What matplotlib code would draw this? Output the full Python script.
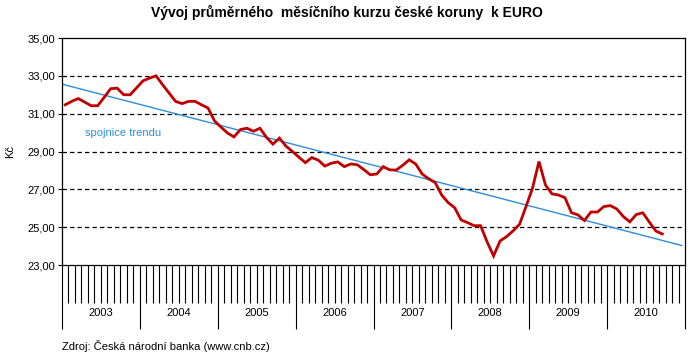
import numpy as np
import matplotlib
matplotlib.use("Agg")
from matplotlib import pyplot as plt
from matplotlib.ticker import FixedLocator, FuncFormatter

# monthly average CZK/EUR, Jan 2003 .. Sep 2010
kurz_2003 = [31.47, 31.65, 31.80, 31.61, 31.42, 31.42, 31.86, 32.32, 32.35, 32.00, 32.00, 32.37]
kurz_2004 = [32.74, 32.88, 33.00, 32.53, 32.09, 31.65, 31.53, 31.65, 31.65, 31.47, 31.30, 30.62]
kurz_2005 = [30.29, 29.98, 29.77, 30.16, 30.23, 30.07, 30.23, 29.75, 29.39, 29.71, 29.29, 29.00]
kurz_2006 = [28.70, 28.41, 28.68, 28.54, 28.23, 28.38, 28.45, 28.20, 28.34, 28.30, 28.05, 27.77]
kurz_2007 = [27.81, 28.20, 28.03, 28.02, 28.27, 28.56, 28.34, 27.81, 27.56, 27.36, 26.70, 26.30]
kurz_2008 = [26.03, 25.38, 25.24, 25.08, 25.08, 24.23, 23.48, 24.27, 24.50, 24.80, 25.15, 26.09]
kurz_2009 = [27.06, 28.47, 27.23, 26.76, 26.70, 26.56, 25.77, 25.65, 25.35, 25.80, 25.80, 26.09]
kurz_2010 = [26.14, 25.96, 25.56, 25.28, 25.67, 25.76, 25.27, 24.80, 24.64]

years = ['2003', '2004', '2005', '2006', '2007', '2008', '2009', '2010']
yticks = [23, 25, 27, 29, 31, 33, 35]

kurz = np.array(kurz_2003 + kurz_2004 + kurz_2005 + kurz_2006
                + kurz_2007 + kurz_2008 + kurz_2009 + kurz_2010)
months = np.arange(len(kurz))
n_cat = 12 * len(years)

plt.rcParams['font.family'] = ['Liberation Sans', 'DejaVu Sans']

fig = plt.figure(figsize=(6.93, 3.58), dpi=100)
ax = fig.add_axes([62 / 693, 1 - 265 / 358, 623 / 693, 227 / 358])

# linear trend, extended to the end of the axis (like Excel's trendline)
k, q = np.polyfit(months, kurz, 1)
tx = np.array([-0.3, n_cat - 1])
ax.plot(tx, k * tx + q, color='#2f8ddb', lw=1.0, zorder=2)

ax.plot(months, kurz, color='#c00000', lw=2.0, zorder=3, solid_joinstyle='miter')

ax.set_xlim(-0.5, n_cat - 0.5)
ax.set_ylim(23, 35)

for y in yticks[1:-1]:
    ax.axhline(y, color='black', lw=0.9, ls=(0, (3.5, 2.5)), zorder=1)

ax.yaxis.set_major_locator(FixedLocator(yticks))
ax.yaxis.set_major_formatter(FuncFormatter(lambda v, p: f'{v:.2f}'.replace('.', ',')))
ax.tick_params(axis='y', direction='out', length=3, width=0.8, labelsize=8, pad=2)

# month boundaries short, year boundaries long
ax.xaxis.set_major_locator(FixedLocator(np.arange(-0.5, n_cat, 12)))
ax.xaxis.set_minor_locator(FixedLocator(np.arange(-0.5, n_cat, 1)))
ax.tick_params(axis='x', which='major', direction='out', length=46, width=0.8, labelbottom=False)
ax.tick_params(axis='x', which='minor', direction='out', length=27, width=0.8)

for i, yr in enumerate(years):
    ax.text(12 * i + 5.5, -0.21, yr, transform=ax.get_xaxis_transform(),
            ha='center', va='center', fontsize=8)

for s in ax.spines.values():
    s.set_linewidth(0.9)
    s.set_color('black')

ax.set_ylabel('Kč', fontsize=8, labelpad=9)
ax.text(3, 30.0, 'spojnice trendu', color='#2f8ddb', fontsize=8, va='center')

fig.text(0.5, 1 - 12 / 358, 'Vývoj průměrného  měsíčního kurzu české koruny  k EURO',
         ha='center', va='center', fontsize=10, fontweight='bold')
fig.text(62 / 693, 1 - 346 / 358, 'Zdroj: Česká národní banka (www.cnb.cz)',
         ha='left', va='center', fontsize=8)

fig.savefig('out.png', dpi=100)
